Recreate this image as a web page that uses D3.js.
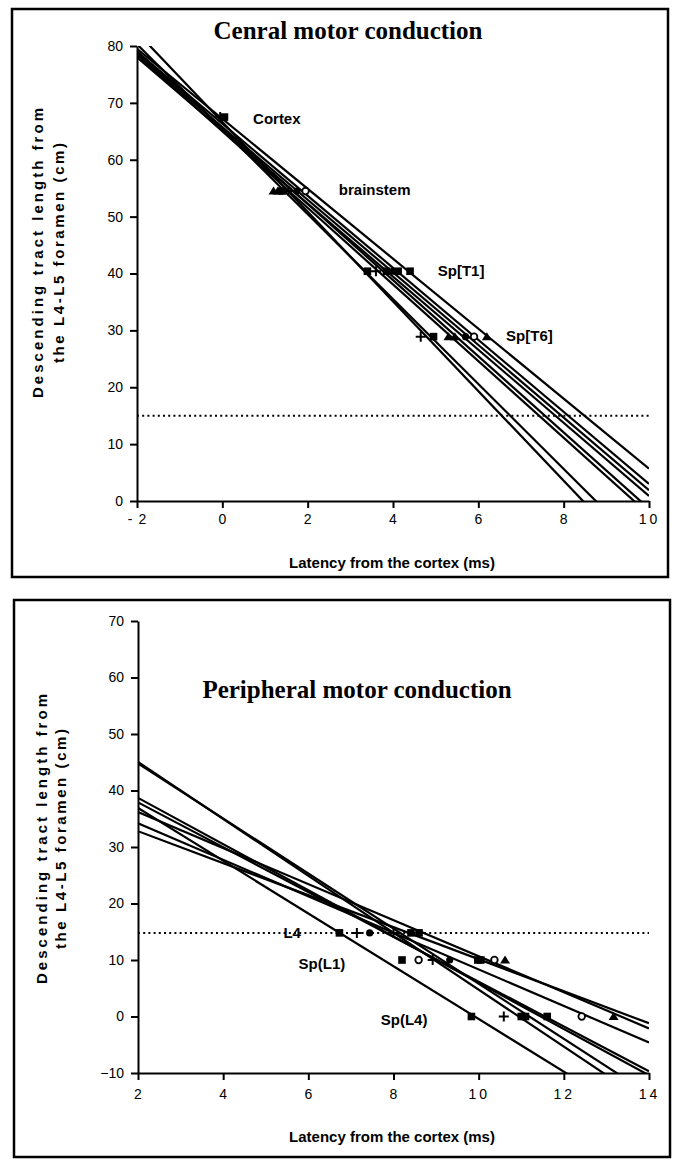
<!DOCTYPE html>
<html>
<head>
<meta charset="utf-8">
<script src="https://cdn.jsdelivr.net/npm/d3@7"></script>
<style>
  body { margin: 0; background: #fff; }
  text { font-family: "Liberation Sans", Arial, sans-serif; fill: #000; }
  .title { font-family: "Liberation Serif", "Times New Roman", serif; font-weight: bold; font-size: 25px; }
  .axis text { font-size: 14px; }
  .axis path, .axis line { stroke: #000; stroke-width: 2px; }
  .lab { font-weight: bold; font-size: 15px; }
  .ylab { font-weight: bold; font-size: 15px; }
  .fit { fill: none; stroke: #000; stroke-width: 2.2px; }
  .dots { fill: none; stroke: #000; stroke-width: 2px; stroke-dasharray: 2,3.2; }
</style>
</head>
<body>
<script>
// central panel: regression lines, y at x=-2 and at x=10
const centralStart = [82.4, 80.3, 78.5, 79, 78, 78.5, 79, 79.5];
const centralEnd   = [-12.2, -9.3, -2.36, -1.34, 0.9, 1.9, 3.0, 5.7];

const centralSites = ['Cortex', 'brainstem', 'Sp[T1]', 'Sp[T6]'];
const centralSiteY = [67.5, 54.5, 40.4, 28.9];
const centralLatency = [
  [-0.05, 0.05],
  [1.2, 1.3, 1.4, 1.55, 1.75, 1.95],
  [3.4, 3.6, 3.85, 4.0, 4.12, 4.4],
  [4.65, 4.95, 5.3, 5.45, 5.7, 5.9, 6.2]
];
const centralShape = [
  ['plus', 'square'],
  ['triangle', 'triangle', 'square', 'plus', 'dot', 'ring'],
  ['square', 'plus', 'square', 'dot', 'square', 'square'],
  ['plus', 'square', 'triangle', 'triangle', 'dot', 'ring', 'triangle']
];
const centralLabelX = [0.72, 2.73, 5.05, 6.65];
const centralLabelY = [67.3, 54.7, 40.5, 29.1];

// peripheral panel: y at x=2 and at x=14
const periStart = [36.9, 45.05, 44.8, 38.7, 37.9, 34.2, 36.2, 32.8];
const periEnd   = [-19.1, -15.4, -13.7, -10.4, -9.7, -4.6, -2.1, -1.2];

const periSites = ['L4', 'Sp(L1)', 'Sp(L4)'];
const periSiteY = [14.8, 10, 0];
const periLatency = [
  [6.73, 7.14, 7.44, 8.0, 8.41, 8.6],
  [8.2, 8.59, 8.92, 9.32, 9.98, 10.05, 10.37, 10.62],
  [9.83, 10.59, 11.0, 11.1, 11.61, 12.42, 13.17]
];
const periShape = [
  ['square', 'plus', 'dot', 'plus', 'square', 'square'],
  ['square', 'ring', 'plus', 'dot', 'square', 'square', 'ring', 'triangle'],
  ['square', 'plus', 'square', 'square', 'square', 'ring', 'triangle']
];
const periLabelX = [5.62, 6.32, 8.25];
const periLabelY = [14.8, 9.3, -0.5];

const centralTicksX = [-2, 0, 2, 4, 6, 8, 10];
const centralTicksY = [0, 10, 20, 30, 40, 50, 60, 70, 80];
const periTicksX = [2, 4, 6, 8, 10, 12, 14];
const periTicksY = [-10, 0, 10, 20, 30, 40, 50, 60, 70];

const svg = d3.select('body').append('svg')
    .attr('width', 676)
    .attr('height', 1161);

function marker(g, shape, cx, cy) {
  if (shape == 'square') {
    g.append('rect').attr('x', cx - 3.8).attr('y', cy - 3.8)
      .attr('width', 7.6).attr('height', 7.6).attr('fill', '#000');
  } else if (shape == 'triangle') {
    g.append('path')
      .attr('d', `M${cx - 5},${cy + 3.5}L${cx + 5},${cy + 3.5}L${cx},${cy - 4.5}Z`)
      .attr('fill', '#000');
  } else if (shape == 'dot') {
    g.append('circle').attr('cx', cx).attr('cy', cy).attr('r', 3.6).attr('fill', '#000');
  } else if (shape == 'ring') {
    g.append('circle').attr('cx', cx).attr('cy', cy).attr('r', 3.3)
      .attr('fill', '#fff').attr('stroke', '#000').attr('stroke-width', 1.8);
  } else {
    g.append('path')
      .attr('d', `M${cx - 5},${cy}H${cx + 5}M${cx},${cy - 5}V${cy + 5}`)
      .attr('stroke', '#000').attr('stroke-width', 2);
  }
}

function panel(p) {
  var x = d3.scaleLinear().domain(p.xDomain).range(p.xRange);
  var y = d3.scaleLinear().domain(p.yDomain).range(p.yRange);

  svg.append('rect')
    .attr('x', p.frame[0]).attr('y', p.frame[1])
    .attr('width', p.frame[2] - p.frame[0]).attr('height', p.frame[3] - p.frame[1])
    .attr('fill', 'none').attr('stroke', '#000').attr('stroke-width', 2.5);

  svg.append('text').attr('class', 'title')
    .attr('x', p.titlePos[0]).attr('y', p.titlePos[1])
    .attr('text-anchor', 'middle').attr('dominant-baseline', 'central')
    .text(p.title);

  svg.append('defs').append('clipPath').attr('id', p.id)
    .append('rect')
      .attr('x', p.xRange[0]).attr('y', p.yRange[1])
      .attr('width', p.xRange[1] - p.xRange[0])
      .attr('height', p.yRange[0] - p.yRange[1]);

  // dotted L4 level
  svg.append('line').attr('class', 'dots')
    .attr('x1', x(p.xDomain[0])).attr('x2', x(p.xDomain[1]))
    .attr('y1', y(p.dotY)).attr('y2', y(p.dotY));

  var lines = svg.append('g').attr('clip-path', `url(#${p.id})`);
  lines.selectAll('line')
    .data(p.start.map((s, i) => [s, p.end[i]]))
    .enter().append('line')
      .attr('class', 'fit')
      .attr('x1', x(p.xDomain[0])).attr('x2', x(p.xDomain[1]))
      .attr('y1', d => y(d[0])).attr('y2', d => y(d[1]));

  var ax = svg.append('g').attr('class', 'axis')
    .attr('transform', `translate(0,${p.yRange[0]})`)
    .call(d3.axisBottom(x).tickValues(p.ticksX).tickSize(7).tickSizeOuter(0)
      .tickPadding(p.padX).tickFormat(p.fmtX));
  ax.selectAll('text').style('letter-spacing', d => Math.abs(d) >= 10 ? '3px' : '1px');

  svg.append('g').attr('class', 'axis')
    .attr('transform', `translate(${p.xRange[0]},0)`)
    .call(d3.axisLeft(y).tickValues(p.ticksY).tickSize(7).tickSizeOuter(0).tickPadding(7));

  var pts = svg.append('g');
  p.latency.forEach((row, i) => {
    row.forEach((v, j) => marker(pts, p.shape[i][j], x(v), y(p.siteY[i])));
  });

  p.sites.forEach((s, i) => {
    var t = svg.append('text').attr('class', 'lab')
      .attr('x', x(p.labelX[i])).attr('y', y(p.labelY[i]))
      .attr('text-anchor', p.anchor).attr('dominant-baseline', 'central')
      .text(s);
    if (p.gapSite == i) {
      var b = t.node().getBBox();
      svg.insert('rect', 'text.lab')
        .attr('x', b.x - 6).attr('y', b.y).attr('width', b.width + 12).attr('height', b.height)
        .attr('fill', '#fff');
    }
  });

  // axis titles
  svg.append('text').attr('class', 'lab')
    .attr('x', p.xTitlePos[0]).attr('y', p.xTitlePos[1])
    .attr('text-anchor', 'middle').attr('dominant-baseline', 'central')
    .text('Latency from the cortex (ms)');

  var yl = svg.append('g')
    .attr('transform', `translate(0,${p.yTitleY}) rotate(-90)`);
  yl.append('text').attr('class', 'ylab')
    .attr('x', 0).attr('y', p.yTitleX[0])
    .attr('text-anchor', 'middle').attr('dominant-baseline', 'central')
    .attr('textLength', 290).attr('lengthAdjust', 'spacing')
    .text('Descending tract length from');
  yl.append('text').attr('class', 'ylab')
    .attr('x', 0).attr('y', p.yTitleX[1])
    .attr('text-anchor', 'middle').attr('dominant-baseline', 'central')
    .attr('textLength', 220).attr('lengthAdjust', 'spacing')
    .text('the L4-L5 foramen (cm)');
}

panel({
  id: 'clipC',
  title: 'Cenral motor conduction',
  titlePos: [348, 30],
  frame: [12, 9, 668, 577],
  xDomain: [-2, 10], xRange: [137, 649],
  yDomain: [0, 80], yRange: [501, 46],
  ticksX: centralTicksX, ticksY: centralTicksY,
  fmtX: d => d < 0 ? '- ' + Math.abs(d) : d,
  padX: 6,
  dotY: 15,
  start: centralStart, end: centralEnd,
  sites: centralSites, siteY: centralSiteY,
  latency: centralLatency, shape: centralShape,
  labelX: centralLabelX, labelY: centralLabelY,
  anchor: 'start', gapSite: -1,
  xTitlePos: [392, 562],
  yTitleX: [37, 58], yTitleY: 253
});

panel({
  id: 'clipP',
  title: 'Peripheral motor conduction',
  titlePos: [357, 689],
  frame: [14, 600, 670, 1157],
  xDomain: [2, 14], xRange: [138, 649],
  yDomain: [-10, 70], yRange: [1073, 621],
  ticksX: periTicksX, ticksY: periTicksY,
  fmtX: d => d,
  padX: 9,
  dotY: 14.8,
  start: periStart, end: periEnd,
  sites: periSites, siteY: periSiteY,
  latency: periLatency, shape: periShape,
  labelX: periLabelX, labelY: periLabelY,
  anchor: 'middle', gapSite: 0,
  xTitlePos: [392, 1136],
  yTitleX: [41, 60], yTitleY: 839
});
</script>
</body>
</html>
